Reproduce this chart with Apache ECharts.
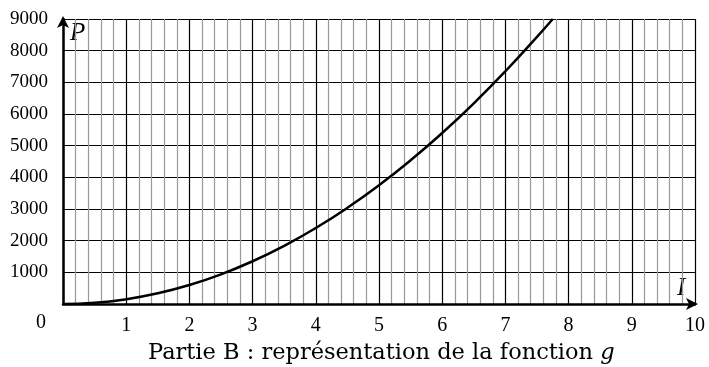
<!DOCTYPE html>
<html>
<head>
<meta charset="utf-8">
<script src="https://cdn.jsdelivr.net/npm/echarts@6/dist/echarts.min.js"></script>
<style>
  html, body { margin: 0; padding: 0; background: #fff; }
  #chart { width: 709px; height: 367px; }
</style>
</head>
<body>
<div id="chart"></div>
<script>
// Intensity I (x) and power P (y) sampled along the curve of g
const intensity = [0, 0.5, 1, 1.5, 2, 2.5, 3, 3.5, 4, 4.5, 5, 5.5, 6, 6.5, 7, 7.5, 7.75];
const power = [0, 37, 150, 337, 600, 937, 1350, 1837, 2400, 3037, 3750, 4537, 5400, 6337, 7350, 8437, 9000];
const xTicks = [1, 2, 3, 4, 5, 6, 7, 8, 9, 10];
const yTicks = [1000, 2000, 3000, 4000, 5000, 6000, 7000, 8000, 9000];
const caption = 'Partie B : représentation de la fonction ';

const serif = '"Liberation Serif", "DejaVu Serif", serif';
const wideSerif = '"DejaVu Serif", "Liberation Serif", serif';
const chart = echarts.init(document.getElementById('chart'));

chart.setOption({
  animation: false,
  backgroundColor: '#fff',
  title: {
    text: '{a|' + caption + '}{g|g}',
    left: 143,
    top: 337,
    textStyle: {
      rich: {
        a: { fontFamily: wideSerif, fontSize: 22.5, fontWeight: 'normal', color: '#000' },
        g: { fontFamily: wideSerif, fontSize: 22.5, fontWeight: 'normal', fontStyle: 'italic', color: '#000' }
      }
    }
  },
  grid: { left: 63, right: 14, top: 19, bottom: 63, containLabel: false },
  xAxis: {
    type: 'value',
    min: 0,
    max: 10,
    interval: 1,
    axisLine: {
      show: true,
      onZero: false,
      symbol: ['none', 'arrow'],
      symbolSize: [9, 12],
      symbolOffset: [0, 3],
      lineStyle: { color: '#000', width: 2.5 }
    },
    axisTick: { show: false },
    axisLabel: {
      margin: 12,
      fontFamily: serif,
      fontSize: 20,
      color: '#000',
      formatter: v => (xTicks.includes(v) ? String(v) : '')
    },
    splitLine: { show: true, lineStyle: { color: '#000', width: 1.2 } },
    minorTick: { show: false, splitNumber: 5 },
    minorSplitLine: { show: true, lineStyle: { color: '#999', width: 1.2 } }
  },
  yAxis: {
    type: 'value',
    min: 0,
    max: 9000,
    interval: 1000,
    axisLine: {
      show: true,
      onZero: false,
      symbol: ['none', 'arrow'],
      symbolSize: [9, 12],
      symbolOffset: [0, 3],
      lineStyle: { color: '#000', width: 2.5 }
    },
    axisTick: { show: false },
    axisLabel: {
      margin: 15,
      fontFamily: serif,
      fontSize: 19,
      color: '#000',
      formatter: v => (yTicks.includes(v) ? String(v) : '')
    },
    splitLine: { show: true, lineStyle: { color: '#000', width: 1.2 } }
  },
  graphic: [
    { type: 'text', left: 36, top: 313, style: { text: '0', font: '20px ' + serif, fill: '#000' } },
    { type: 'text', left: 70, top: 21, style: { text: 'P', font: 'italic 25px ' + serif, fill: '#000' } },
    { type: 'text', left: 677, top: 276, style: { text: 'I', font: 'italic 25px ' + serif, fill: '#000' } }
  ],
  series: [{
    type: 'line',
    data: intensity.map((x, i) => [x, power[i]]),
    smooth: true,
    showSymbol: false,
    lineStyle: { color: '#000', width: 2.5 },
    z: 5
  }]
});
</script>
</body>
</html>
